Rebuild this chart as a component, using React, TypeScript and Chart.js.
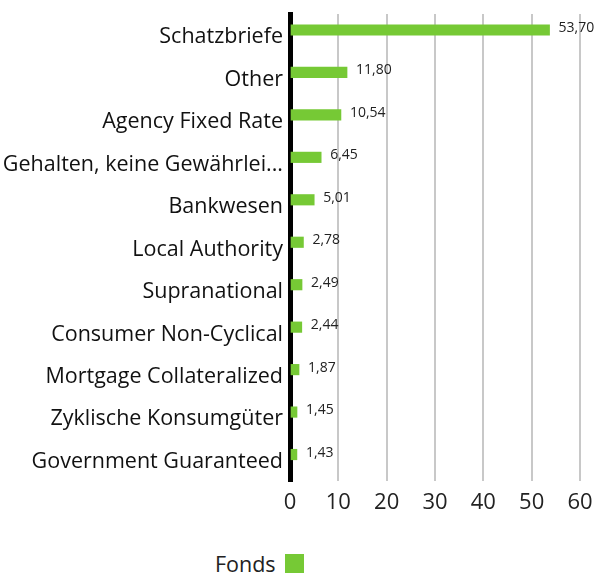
import React, { useEffect, useRef } from "react";
import { Chart, registerables } from "chart.js";

Chart.register(...registerables);

const categories = [
  "Schatzbriefe",
  "Other",
  "Agency Fixed Rate",
  "Gehalten, keine Gewährlei...",
  "Bankwesen",
  "Local Authority",
  "Supranational",
  "Consumer Non-Cyclical",
  "Mortgage Collateralized",
  "Zyklische Konsumgüter",
  "Government Guaranteed",
];
const fondsValues = [53.7, 11.8, 10.54, 6.45, 5.01, 2.78, 2.49, 2.44, 1.87, 1.45, 1.43];
const spacerValues = [null, null, null, null, null, null, null, null, null, null, null];
const seriesName = "Fonds";
const xTicks = [0, 10, 20, 30, 40, 50, 60];

const GREEN = "#76c935";
const FONT = "'Open Sans'";

const fmt = (v: number) => v.toFixed(2).replace(".", ",");

const valueLabels = {
  id: "valueLabels",
  afterDatasetsDraw(chart: any) {
    const ctx = chart.ctx;
    const meta = chart.getDatasetMeta(0);
    ctx.save();
    ctx.font = `14px ${FONT}`;
    ctx.fillStyle = "#222";
    ctx.textAlign = "left";
    ctx.textBaseline = "middle";
    meta.data.forEach((bar: any, i: number) => {
      ctx.fillText(fmt(fondsValues[i]), bar.x + 9, bar.y - 2);
    });
    ctx.restore();
  },
};

export default function App() {
  const ref = useRef<HTMLCanvasElement>(null);
  useEffect(() => {
    const prevMargin = document.body.style.margin;
    document.body.style.margin = "0";
    const chart = new Chart(ref.current!, {
      type: "bar",
      data: {
        labels: categories,
        datasets: [
          { label: seriesName, data: fondsValues, backgroundColor: GREEN, barThickness: 10.5 },
          { label: "", data: spacerValues as any, backgroundColor: "transparent", barThickness: 10.5 },
        ],
      },
      options: {
        indexAxis: "y",
        responsive: false,
        animation: false,
        layout: { padding: { top: 14, left: 0, right: 0, bottom: 0 } },
        plugins: { legend: { display: false }, tooltip: { enabled: false } },
        scales: {
          x: {
            min: 0,
            max: 60,
            afterBuildTicks: (s: any) => {
              s.ticks = xTicks.map((v) => ({ value: v }));
            },
            afterFit: (s: any) => {
              s.height = 59;
              s.paddingLeft = 0;
              s.paddingRight = 18;
            },
            grid: {
              color: (c: any) => (c.tick && c.tick.value === 0 ? "transparent" : "#c8c8c8"),
              lineWidth: 2,
              drawTicks: false,
            },
            border: { display: false },
            ticks: { font: { family: FONT, size: 22 }, color: "#222", padding: 9 },
          },
          y: {
            afterFit: (s: any) => {
              s.width = 290;
              s.paddingTop = 0;
              s.paddingBottom = 0;
            },
            grid: { display: false, drawTicks: false },
            border: { display: true, color: "#000", width: 5 },
            ticks: { font: { family: FONT, size: 21.5 }, color: "#111", padding: 7, labelOffset: 2 },
          },
        },
      },
      plugins: [valueLabels],
    });
    return () => {
      chart.destroy();
      document.body.style.margin = prevMargin;
    };
  }, []);
  return (
    <div style={{ position: "relative", width: 598, height: 576, overflow: "hidden" }}>
      <canvas ref={ref} width={598} height={540} style={{ display: "block" }} />
      <div
        style={{
          position: "absolute",
          left: 215,
          top: 552,
          height: 22,
          display: "flex",
          alignItems: "center",
          fontFamily: FONT,
          fontSize: 21.5,
          color: "#222",
        }}
      >
        <span>{seriesName}</span>
        <span style={{ display: "inline-block", width: 19, height: 19, background: GREEN, marginLeft: 9 }} />
      </div>
    </div>
  );
}
